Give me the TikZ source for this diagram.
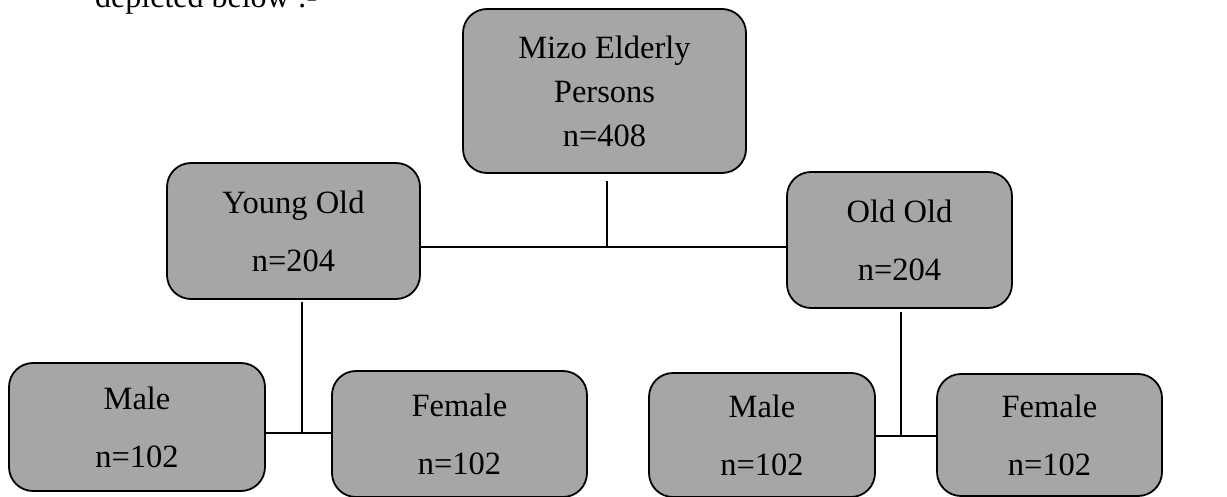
\documentclass[tikz,border=0pt]{standalone}
\usepackage{fontspec}
\setmainfont{Liberation Serif}
\definecolor{boxgrey}{RGB}{166,166,166}
\begin{document}
\begin{tikzpicture}[x=1pt,y=-1pt,
  box/.style={draw=black, line width=1.8pt, fill=boxgrey, rounded corners=24pt,
    inner sep=0pt, align=center, font=\fontsize{32.5}{58}\selectfont},
  link/.style={draw=black, line width=1.6pt},
  plain/.style={inner sep=0pt, font=\fontsize{32}{37}\selectfont}]
\useasboundingbox (0,0) rectangle (1227,497);
\node[plain, anchor=base west] (intro) at (95,8) {depicted below :-};
\node[box, minimum width=283pt, minimum height=164pt, font=\fontsize{32.5}{44}\selectfont]
  (top) at (604.5,91) {Mizo Elderly\\Persons\\n=408};
\node[box, minimum width=253pt, minimum height=136pt] (yo) at (293.5,231) {Young Old\\n=204};
\node[box, minimum width=225pt, minimum height=136pt] (oo) at (899.5,240) {Old Old\\n=204};
\node[box, minimum width=256pt, minimum height=128pt] (lm) at (137,427) {Male\\n=102};
\node[box, minimum width=255pt, minimum height=126pt] (lf) at (459.5,434) {Female\\n=102};
\node[box, minimum width=226pt, minimum height=124pt] (rm) at (762,435) {Male\\n=102};
\node[box, minimum width=225pt, minimum height=122pt] (rf) at (1049.5,435) {Female\\n=102};
% junctions
\coordinate (j1top) at (607,181);
\coordinate (j1) at (607,247);
\coordinate (j2top) at (302,302);
\coordinate (j2) at (302,433);
\coordinate (j3top) at (901,312);
\coordinate (j3) at (901,436);
% connectors
\draw[link] (j1top) -- (j1);
\draw[link] (yo.east |- j1) -- (oo.west |- j1);
\draw[link] (j2top) -- (j2);
\draw[link] (lm.east |- j2) -- (lf.west |- j2);
\draw[link] (j3top) -- (j3);
\draw[link] (rm.east |- j3) -- (rf.west |- j3);
\end{tikzpicture}
\end{document}
